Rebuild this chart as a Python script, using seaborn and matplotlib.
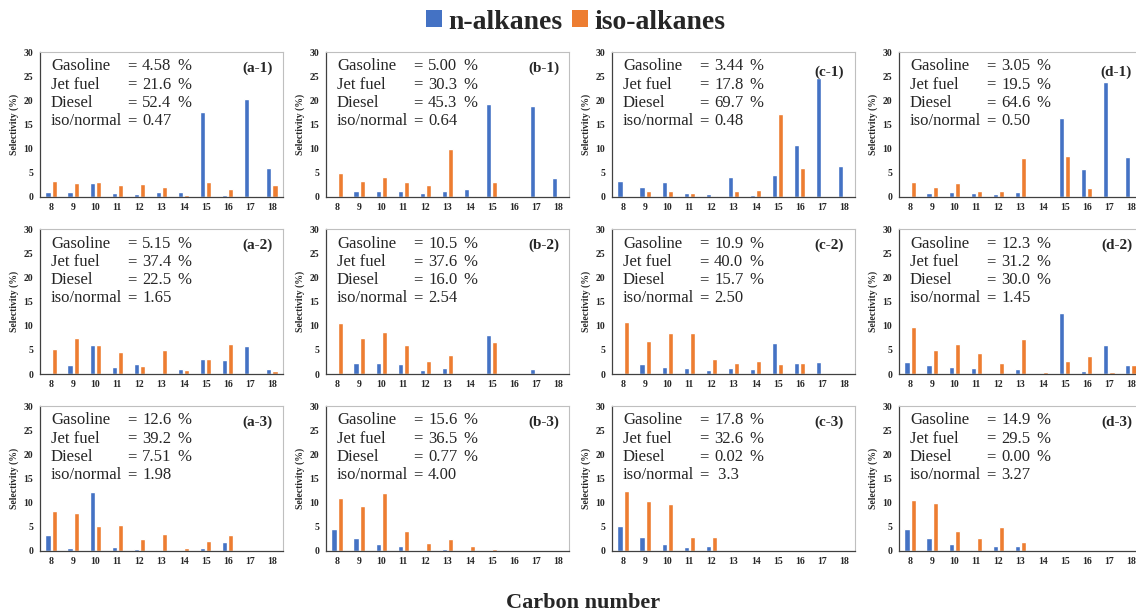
import numpy as np
import pandas as pd
import matplotlib
matplotlib.use("Agg")
import matplotlib.pyplot as plt
from matplotlib.patches import Patch
import seaborn as sns

sns.set_style("white")
plt.rcParams["font.family"] = ["Liberation Serif", "DejaVu Serif"]

carbons = [8, 9, 10, 11, 12, 13, 14, 15, 16, 17, 18]
series_names = ["n-alkanes", "iso-alkanes"]
colors = ["#4472C4", "#ED7D31"]

# n-alkane / iso-alkane selectivity (%) per carbon number for each sample
n_a1 = [1.1, 1.0, 2.8, 0.9, 0.6, 1.0, 1.1, 17.6, 0.35, 20.2, 6.1]
i_a1 = [3.3, 2.8, 3.0, 2.4, 2.6, 2.0, 0.5, 3.2, 1.7, 0.2, 2.4]
n_b1 = [0.0, 1.3, 1.3, 1.2, 0.9, 1.2, 1.65, 19.2, 0.0, 18.8, 4.0]
i_b1 = [4.9, 3.4, 4.1, 3.1, 2.5, 10.0, 0.3, 3.2, 0.0, 0.0, 0.0]
n_c1 = [3.4, 2.1, 3.05, 0.8, 0.55, 4.2, 0.35, 4.6, 10.7, 24.6, 6.4]
i_c1 = [0.0, 1.2, 1.3, 0.8, 0.2, 1.2, 1.45, 17.1, 5.9, 0.0, 0.0]
n_d1 = [0.0, 0.8, 0.95, 0.8, 0.6, 0.95, 0.0, 16.4, 5.8, 23.8, 8.2]
i_d1 = [3.0, 2.1, 2.95, 1.2, 1.3, 8.05, 0.0, 8.5, 1.8, 0.0, 0.0]

n_a2 = [0.0, 1.8, 5.9, 1.4, 2.0, 0.0, 1.05, 3.05, 2.8, 5.8, 1.1]
i_a2 = [5.1, 7.55, 5.9, 4.65, 1.75, 4.9, 0.75, 3.05, 6.3, 0.0, 0.55]
n_b2 = [0.0, 2.3, 2.3, 2.0, 0.9, 1.25, 0.0, 8.1, 0.0, 1.1, 0.0]
i_b2 = [10.6, 7.4, 8.65, 6.0, 2.75, 4.0, 0.0, 6.65, 0.0, 0.0, 0.0]
n_c2 = [0.0, 2.0, 1.5, 1.3, 0.9, 1.15, 1.05, 6.4, 2.3, 2.55, 0.0]
i_c2 = [10.8, 6.9, 8.55, 8.55, 3.05, 2.35, 2.7, 2.0, 2.3, 0.0, 0.2]
n_d2 = [2.5, 1.8, 1.45, 1.3, 0.0, 1.1, 0.0, 12.7, 0.6, 6.1, 1.9]
i_d2 = [9.75, 4.95, 6.25, 4.25, 2.25, 7.15, 0.4, 2.7, 3.7, 0.4, 1.8]

n_a3 = [3.3, 0.55, 12.2, 0.75, 0.35, 0.2, 0.0, 0.55, 1.85, 0.0, 0.0]
i_a3 = [8.3, 7.85, 5.2, 5.4, 2.5, 3.6, 0.55, 2.05, 3.3, 0.0, 0.0]
n_b3 = [4.55, 2.7, 1.5, 1.05, 0.0, 0.4, 0.0, 0.0, 0.25, 0.0, 0.0]
i_b3 = [11.0, 9.4, 11.9, 4.2, 1.65, 2.55, 1.05, 0.45, 0.0, 0.0, 0.0]
n_c3 = [5.2, 2.9, 1.5, 0.9, 0.95, 0.0, 0.0, 0.0, 0.0, 0.0, 0.0]
i_c3 = [12.4, 10.3, 9.65, 2.8, 2.8, 0.0, 0.0, 0.0, 0.0, 0.0, 0.0]
n_d3 = [4.45, 2.6, 1.45, 0.15, 0.95, 0.95, 0.0, 0.0, 0.0, 0.0, 0.0]
i_d3 = [10.6, 9.85, 4.05, 2.65, 5.05, 1.8, 0.0, 0.0, 0.0, 0.0, 0.0]

# Product distribution summaries: gasoline, jet fuel, diesel, iso/normal ratio
panel_ids = ["a-1", "b-1", "c-1", "d-1",
             "a-2", "b-2", "c-2", "d-2",
             "a-3", "b-3", "c-3", "d-3"]
gasoline = ["4.58", "5.00", "3.44", "3.05", "5.15", "10.5", "10.9", "12.3",
            "12.6", "15.6", "17.8", "14.9"]
jet_fuel = ["21.6", "30.3", "17.8", "19.5", "37.4", "37.6", "40.0", "31.2",
            "39.2", "36.5", "32.6", "29.5"]
diesel = ["52.4", "45.3", "69.7", "64.6", "22.5", "16.0", "15.7", "30.0",
          "7.51", "0.77", "0.02", "0.00"]
iso_normal = ["0.47", "0.64", "0.48", "0.50", "1.65", "2.54", "2.50", "1.45",
              "1.98", "4.00", " 3.3", "3.27"]

n_series = [n_a1, n_b1, n_c1, n_d1, n_a2, n_b2, n_c2, n_d2, n_a3, n_b3, n_c3, n_d3]
i_series = [i_a1, i_b1, i_c1, i_d1, i_a2, i_b2, i_c2, i_d2, i_a3, i_b3, i_c3, i_d3]

W, H = 1136, 614
fig = plt.figure(figsize=(W / 100, H / 100), dpi=100)

col_left = [40, 326, 612, 899]
row_top = [52, 229, 406]
ax_w, ax_h = 243, 145

dark = "#404040"
light = "#BFBFBF"
labels = [str(x) for x in carbons]

for k, pid in enumerate(panel_ids):
    r, c = divmod(k, 4)
    left = col_left[c] / W
    bottom = 1 - (row_top[r] + ax_h) / H
    ax = fig.add_axes([left, bottom, ax_w / W, ax_h / H])

    df = pd.DataFrame({
        "carbon": labels * 2,
        "type": [series_names[0]] * len(carbons) + [series_names[1]] * len(carbons),
        "value": list(n_series[k]) + list(i_series[k]),
    })
    sns.barplot(data=df, x="carbon", y="value", hue="type",
                order=labels, hue_order=series_names,
                palette=colors, width=0.56, gap=0.15, saturation=1,
                legend=False, ax=ax)

    ax.set_ylim(0, 30)
    ax.set_xlim(-0.5, len(carbons) - 0.5)
    ax.set_yticks(np.arange(0, 31, 5))
    ax.set_yticklabels([str(v) for v in range(0, 31, 5)])
    # category labels at centres, tick marks between categories
    ax.set_xticks(np.arange(-0.5, len(carbons), 1.0))
    ax.set_xticklabels([])
    ax.set_xticks(np.arange(len(carbons)), minor=True)
    ax.set_xticklabels(labels, minor=True)
    ax.tick_params(axis="x", which="minor", length=0, pad=4, labelsize=7)
    ax.tick_params(axis="x", which="major", length=3, width=0.8,
                   color=dark, direction="out", labelsize=7)
    ax.tick_params(axis="y", length=3, width=0.8, color=dark,
                   direction="out", pad=2, labelsize=7)
    for t in ax.get_xticklabels(minor=True) + ax.get_yticklabels():
        t.set_fontweight("bold")
    ax.set_xlabel("")
    ax.set_ylabel("Selectivity (%)", fontsize=7, fontweight="bold", labelpad=3)

    for side in ["top", "right"]:
        ax.spines[side].set_color(light)
        ax.spines[side].set_linewidth(0.8)
    for side in ["left", "bottom"]:
        ax.spines[side].set_color(dark)
        ax.spines[side].set_linewidth(0.9)

    rows = [("Gasoline", gasoline[k], "%"),
            ("Jet fuel", jet_fuel[k], "%"),
            ("Diesel", diesel[k], "%"),
            ("iso/normal", iso_normal[k], "")]
    for j, (name, val, unit) in enumerate(rows):
        y = 0.90 - j * 0.125
        ax.text(0.045, y, name, transform=ax.transAxes, fontsize=12,
                va="center", ha="left")
        ax.text(0.36, y, "=", transform=ax.transAxes, fontsize=12,
                va="center", ha="left")
        ax.text(0.42, y, val, transform=ax.transAxes, fontsize=12,
                va="center", ha="left")
        if unit:
            ax.text(0.565, y, unit, transform=ax.transAxes, fontsize=12,
                    va="center", ha="left")
    label_y = 0.86 if pid in ("c-1", "d-1") else 0.89
    ax.text(0.895, label_y, f"({pid})", transform=ax.transAxes, fontsize=11,
            fontweight="bold", va="center", ha="center")

handles = [Patch(facecolor=colors[0], edgecolor="none"),
           Patch(facecolor=colors[1], edgecolor="none")]
fig.legend(handles, series_names, loc="center", bbox_to_anchor=(0.507, 0.964),
           ncol=2, frameon=False, handlelength=0.55, handleheight=0.55,
           handletextpad=0.25, columnspacing=0.35,
           prop={"family": "Liberation Serif", "weight": "bold", "size": 20})

fig.text(0.513, 0.018, "Carbon number", ha="center", va="center",
         fontsize=16, fontweight="bold")

fig.savefig("out.png", dpi=100)
